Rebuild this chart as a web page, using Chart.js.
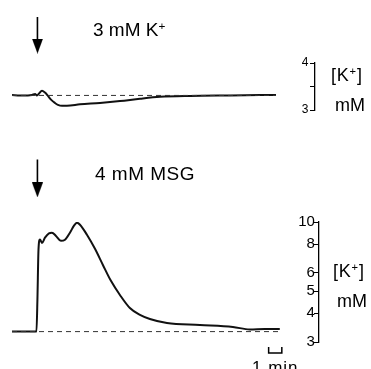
<!DOCTYPE html>
<html lang="en">
  <head>
    <meta charset="utf-8">
    <title>K+ responses</title>
    <script src="https://cdn.jsdelivr.net/npm/chart.js@4.4.1/dist/chart.umd.min.js"></script>
    <style>
      body { margin: 0; background: #fff; overflow: hidden; }
      #wrap {
        position: relative; width: 371px; height: 369px; overflow: hidden;
        font-family: "Liberation Sans", Arial, sans-serif; color: #000;
      }
      canvas { position: absolute; left: 0; top: 0; }
      .lbl { position: absolute; line-height: 1; white-space: nowrap; }
      .lbl sup { font-size: 0.62em; vertical-align: 0.55em; line-height: 0; }
    </style>
  </head>
  <body>
    <div id="wrap">
      <canvas id="top-chart" width="371" height="369"></canvas>
      <canvas id="bottom-chart" width="371" height="369"></canvas>

      <div class="lbl" style="left:93px; top:20px; font-size:19px;">3 mM K<sup>+</sup></div>
      <div class="lbl" style="left:331px; top:66px; font-size:18px; letter-spacing:0.8px;">[K<sup>+</sup>]</div>
      <div class="lbl" style="left:335px; top:96px; font-size:18px;">mM</div>

      <div class="lbl" style="left:95px; top:164px; font-size:19px; letter-spacing:0.5px;">4 mM MSG</div>
      <div class="lbl" style="left:333px; top:262px; font-size:18px; letter-spacing:0.8px;">[K<sup>+</sup>]</div>
      <div class="lbl" style="left:337px; top:292px; font-size:18px;">mM</div>
      <div class="lbl" style="left:252px; top:359px; font-size:17px; letter-spacing:1px;">1 min</div>
    </div>

    <script>
      // time in minutes from start of recording, [K+] in mM
      var topTime = [0, 0.67, 1.33, 1.67, 1.92, 2.08, 2.25, 2.5, 2.75, 3.0, 3.25, 3.58, 3.83,
                     4.17, 4.58, 5.67, 7.33, 9.0, 10.67, 12.33, 14.83, 18.17, 22.0];
      var topK = [3.32, 3.31, 3.31, 3.32, 3.34, 3.31, 3.35, 3.41, 3.37, 3.30, 3.22, 3.15, 3.11,
                  3.09, 3.09, 3.12, 3.15, 3.19, 3.24, 3.28, 3.30, 3.31, 3.32];
      var topBaseline = 3.31;

      var bottomTime = [0, 2.04, 2.12, 2.21, 2.33, 2.5, 2.75, 3.08, 3.33, 3.67, 4.08, 4.42, 4.83,
                        5.17, 5.42, 5.67, 6.25, 6.92, 7.58, 8.25, 9.0, 9.83, 10.67, 11.5, 12.92,
                        15.67, 18.42, 19.83, 21.08, 22.33];
      var bottomK = [3.33, 3.33, 4.6, 7.6, 8.4, 8.1, 8.55, 8.93, 8.98, 8.7, 8.28, 8.37, 8.98,
                     9.64, 9.93, 9.73, 8.8, 7.64, 6.5, 5.54, 4.81, 4.22, 3.94, 3.78, 3.63,
                     3.56, 3.49, 3.40, 3.42, 3.42];
      var bottomBaseline = 3.33;

      var injectTime = 2.12;
      var topArrowK = [4.98, 4.36];      // shaft top, head centre
      var bottomArrowK = [18.7, 13.8];

      var topTicks = [3, 3.5, 4];
      var topTickLabels = ['3  ', '', '4  '];
      var bottomTicks = [3, 4, 5, 6, 8, 10];
      var bottomTickLabels = ['3 ', '4 ', '5 ', '6 ', '8 ', '10 '];

      var scaleBarTime = [21.4, 22.5];   // 1 min bar
      var scaleBarK = [2.85, 2.685];

      function pts(xs, ys) {
        return xs.map(function (x, i) { return {x: x, y: ys[i]}; });
      }

      // arrow head marker
      var head = document.createElement('canvas');
      head.width = 11; head.height = 15;
      var hc = head.getContext('2d');
      hc.fillStyle = '#000';
      hc.beginPath(); hc.moveTo(0, 0); hc.lineTo(11, 0); hc.lineTo(5.5, 15); hc.closePath(); hc.fill();

      function arrowSet(ks) {
        return {
          data: [{x: injectTime, y: ks[0]}, {x: injectTime, y: ks[1]}],
          borderColor: '#000', borderWidth: 1.6, clip: false,
          pointRadius: [0, 45], pointStyle: head, pointBorderWidth: 0
        };
      }

      function traceSet(xs, ys) {
        return {
          data: pts(xs, ys), borderColor: '#111', borderWidth: 2,
          pointRadius: 0, cubicInterpolationMode: 'monotone'
        };
      }

      function baseSet(v, xEnd) {
        return {
          data: [{x: 0, y: v}, {x: xEnd, y: v}], borderColor: '#333', borderWidth: 1,
          borderDash: [5, 4], pointRadius: 0
        };
      }

      function yAxis(type, min, max, ticks, labels, xPos, fontSize) {
        return {
          type: type, min: min, max: max,
          position: {x: xPos},
          afterBuildTicks: function (scale) {
            scale.ticks = ticks.map(function (v) { return {value: v}; });
          },
          ticks: {
            autoSkip: false, color: '#000', padding: 2,
            font: {family: 'Liberation Sans, Arial, sans-serif', size: fontSize},
            callback: function (value) {
              var i = ticks.indexOf(value);
              return i < 0 ? '' : labels[i];
            }
          },
          grid: {display: true, drawOnChartArea: false, drawTicks: true, tickLength: 4, color: '#000', lineWidth: 1},
          border: {display: true, color: '#000', width: 1.3}
        };
      }

      function baseOptions(pad, xMax, y) {
        return {
          responsive: false, animation: false, events: [],
          layout: {padding: pad, autoPadding: false},
          plugins: {legend: {display: false}, tooltip: {enabled: false}},
          scales: {
            x: {type: 'linear', min: 0, max: xMax, display: false},
            y: y
          }
        };
      }

      var top_chart = new Chart(document.getElementById('top-chart'), {
        type: 'line',
        data: {
          datasets: [
            baseSet(topBaseline, 22),
            traceSet(topTime, topK),
            arrowSet(topArrowK)
          ]
        },
        options: baseOptions({left: 12, right: 56, top: 63, bottom: 259}, 25.25,
                             yAxis('linear', 3, 4, topTicks, topTickLabels, 25.25, 12))
      });

      var barSet = {
        data: [{x: scaleBarTime[0], y: scaleBarK[0]}, {x: scaleBarTime[0], y: scaleBarK[1]},
               {x: scaleBarTime[1], y: scaleBarK[1]}, {x: scaleBarTime[1], y: scaleBarK[0]}],
        borderColor: '#000', borderWidth: 1.5, pointRadius: 0, clip: false, tension: 0
      };

      var bottom_chart = new Chart(document.getElementById('bottom-chart'), {
        type: 'line',
        data: {
          datasets: [
            baseSet(bottomBaseline, 22.33),
            traceSet(bottomTime, bottomK),
            arrowSet(bottomArrowK),
            barSet
          ]
        },
        options: baseOptions({left: 12, right: 52, top: 222, bottom: 27}, 25.6,
                             yAxis('logarithmic', 3, 10, bottomTicks, bottomTickLabels, 25.6, 15))
      });
    </script>
  </body>
</html>
